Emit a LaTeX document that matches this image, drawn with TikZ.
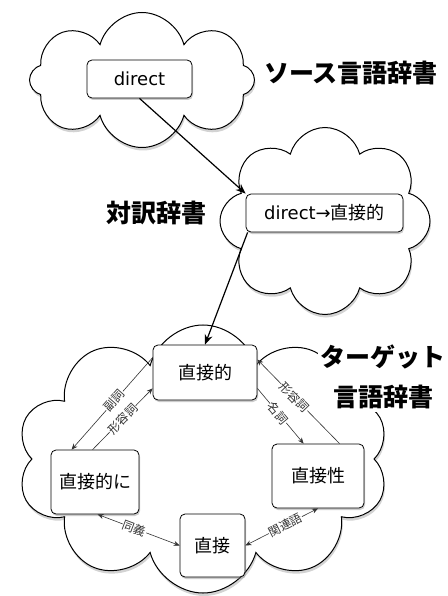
\documentclass[tikz,border=0pt]{standalone}
\usepackage{fontspec}
\setmainfont{Noto Sans CJK JP}
\newfontfamily\latinfont{DejaVu Sans}
\usetikzlibrary{shapes.symbols,shadows,arrows.meta}
\begin{document}
\begin{tikzpicture}[x=1pt,y=-1pt,
  cloudbox/.style={cloud, draw=black, line width=1pt, fill=white, drop shadow={shadow xshift=1pt,shadow yshift=-3pt,opacity=0.35}},
  wordbox/.style={draw=black, line width=0.8pt, fill=white, rounded corners=5pt, drop shadow={shadow xshift=1pt,shadow yshift=-2pt,opacity=0.4}, font=\fontsize{18}{21}\selectfont, inner sep=0pt},
  title/.style={font=\fontsize{25}{40}\selectfont\bfseries},
  mainarrow/.style={-{Stealth[length=10pt,width=8pt]}, line width=1.2pt},
  rel/.style={line width=0.6pt, draw=black!80, -{Stealth[length=6pt,width=5pt]}},
  relboth/.style={line width=0.6pt, draw=black!80, {Stealth[length=6pt,width=5pt]}-{Stealth[length=6pt,width=5pt]}},
  lab/.style={midway, sloped, fill=white, inner sep=0.5pt, font=\fontsize{12}{14}\selectfont, text=black!80}
]
\useasboundingbox (0,0) rectangle (447,596);
% clouds
\node[cloudbox, cloud puffs=8, aspect=1.67, minimum width=225pt, minimum height=135pt] (c1) at (142,80) {};
\node[cloudbox, cloud puffs=8, aspect=1.1, minimum width=210pt, minimum height=187pt] (c2) at (325,221) {};
\node[cloudbox, cloud puffs=10, aspect=1.4, minimum width=372pt, minimum height=268pt] (c3) at (203,459) {};
% titles
\node[title] (l1) at (351,73) {ソース言語辞書};
\node[title] (l2) at (156,213) {対訳辞書};
\node[title, fill=white, align=center, inner sep=3pt] (l3) at (383,377) {ターゲット\\言語辞書};
% boxes
\node[wordbox, minimum width=105pt, minimum height=38pt] (d) at (139.5,79) {{\latinfont direct}};
\node[wordbox, minimum width=157pt, minimum height=38pt] (dt) at (324.5,213) {{\latinfont direct→}直接的};
\node[wordbox, minimum width=104pt, minimum height=55pt] (t) at (205,372.5) {直接的};
\node[wordbox, minimum width=88pt, minimum height=64pt] (ni) at (95,482) {直接的に};
\node[wordbox, minimum width=92pt, minimum height=64pt] (sei) at (318,476) {直接性};
\node[wordbox, minimum width=65pt, minimum height=63pt] (cho) at (212.5,545.5) {直接};
% main arrows
\draw[mainarrow] (d.south) -- (dt.north west);
\draw[mainarrow] ([xshift=2pt]dt.south west) -- (t.north);
% relations
\draw[rel] ([yshift=-13pt]t.north west) -- ([xshift=21pt]ni.north west) node[lab, pos=0.47]{副詞};
\draw[rel] ([xshift=42pt]ni.north west) -- ([yshift=12pt]t.south west) node[lab, pos=0.5]{形容詞};
\draw[rel] ([xshift=68pt]sei.north west) -- ([yshift=-15pt]t.north east) node[lab, pos=0.55]{形容詞};
\draw[rel] ([yshift=12pt]t.south east) -- ([xshift=32pt]sei.north west) node[lab, pos=0.45]{名詞};
\draw[relboth] ([xshift=47pt]ni.south west) -- (cho.west) node[lab, pos=0.45]{同義};
\draw[relboth] (cho.east) -- (sei.south) node[lab, pos=0.55]{関連語};
\end{tikzpicture}
\end{document}
